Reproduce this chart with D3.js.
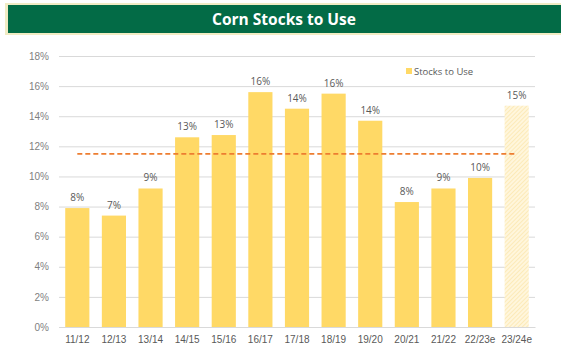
<!DOCTYPE html>
<html>
<head>
<meta charset="utf-8">
<script src="https://cdn.jsdelivr.net/npm/d3@7"></script>
<style>
  html, body { margin: 0; padding: 0; background: #ffffff; }
  svg { display: block; font-family: "Open Sans", "Liberation Sans", sans-serif; }
</style>
</head>
<body>
<svg id="chart" width="561" height="353"></svg>
<script>
// Corn stocks-to-use ratio by marketing year (%)
const seasons = ["11/12","12/13","13/14","14/15","15/16","16/17","17/18","18/19","19/20","20/21","21/22","22/23e","23/24e"];
const stocksToUse = [7.9, 7.4, 9.2, 12.6, 12.75, 15.6, 14.5, 15.5, 13.7, 8.3, 9.2, 9.9, 14.7];
const barLabels = ["8%","7%","9%","13%","13%","16%","14%","16%","14%","8%","9%","10%","15%"];
const estimated = [false,false,false,false,false,false,false,false,false,false,false,false,true];
const averageLine = 11.5;
const yTicks = [0, 2, 4, 6, 8, 10, 12, 14, 16, 18];

const svg = d3.select("#chart");
const W = 561, H = 353;
const margin = { left: 59, right: 26, top: 56, bottom: 26 };
const plotRight = W - margin.right, plotBottom = H - margin.bottom;

// Title banner
svg.append("rect").attr("x", 5).attr("y", 3).attr("width", 560).attr("height", 32)
  .attr("fill", "#f1ecc4");
svg.append("rect").attr("x", 8).attr("y", 5).attr("width", 556).attr("height", 28)
  .attr("fill", "#036b46");
svg.append("text").attr("x", 284).attr("y", 25).attr("text-anchor", "middle")
  .attr("fill", "#ffffff").attr("font-size", 15.5).attr("font-weight", "bold")
  .text("Corn Stocks to Use");

const x = d3.scaleBand().domain(seasons).range([margin.left, plotRight]).paddingInner(0.34).paddingOuter(0.17);
const y = d3.scaleLinear().domain([0, 18]).range([plotBottom, margin.top]);

// Hatch pattern for the estimated season
const defs = svg.append("defs");
const pat = defs.append("pattern").attr("id", "hatch").attr("patternUnits", "userSpaceOnUse")
  .attr("width", 3).attr("height", 3).attr("patternTransform", "rotate(45)");
pat.append("rect").attr("width", 3).attr("height", 3).attr("fill", "#fff6dc");
pat.append("line").attr("x1", 0).attr("y1", 0).attr("x2", 0).attr("y2", 3)
  .attr("stroke", "#fbe3a0").attr("stroke-width", 1.2);

// Gridlines and y-axis labels
const yAxis = d3.axisLeft(y).tickValues(yTicks).tickFormat(d => d + "%")
  .tickSize(-(plotRight - margin.left)).tickPadding(10);
const gy = svg.append("g").attr("transform", `translate(${margin.left},0)`).call(yAxis);
gy.select(".domain").remove();
gy.selectAll(".tick line").attr("stroke", "#d9d9d9").attr("stroke-width", 1);
gy.selectAll(".tick text").attr("fill", "#7f7f7f").attr("font-size", 10);

// Bars
svg.append("g").selectAll("rect").data(seasons).join("rect")
  .attr("x", d => x(d))
  .attr("y", (d, i) => y(stocksToUse[i]))
  .attr("width", x.bandwidth())
  .attr("height", (d, i) => y(0) - y(stocksToUse[i]))
  .attr("fill", (d, i) => estimated[i] ? "url(#hatch)" : "#ffd966");

// Value labels
svg.append("g").selectAll("text").data(seasons).join("text")
  .attr("x", d => x(d) + x.bandwidth() / 2)
  .attr("y", (d, i) => y(stocksToUse[i]) - 7)
  .attr("text-anchor", "middle").attr("fill", "#595959").attr("font-size", 10)
  .text((d, i) => barLabels[i]);

// X-axis
const xAxis = d3.axisBottom(x).tickSize(0).tickPadding(9);
const gx = svg.append("g").attr("transform", `translate(0,${plotBottom})`).call(xAxis);
gx.select(".domain").attr("stroke", "#d9d9d9");
gx.selectAll(".tick text").attr("fill", "#595959").attr("font-size", 10);

// Dashed average line
const first = seasons[0], last = seasons[seasons.length - 1];
svg.append("line")
  .attr("x1", x(first) + x.bandwidth() / 2).attr("x2", x(last) + x.bandwidth() / 2)
  .attr("y1", y(averageLine)).attr("y2", y(averageLine))
  .attr("stroke", "#ed7d31").attr("stroke-width", 1.6).attr("stroke-dasharray", "5,3");

// Legend
svg.append("rect").attr("x", 406).attr("y", 68).attr("width", 6).attr("height", 6).attr("fill", "#ffd966");
svg.append("text").attr("x", 414).attr("y", 75).attr("fill", "#595959").attr("font-size", 9.5)
  .text("Stocks to Use");
</script>
</body>
</html>
